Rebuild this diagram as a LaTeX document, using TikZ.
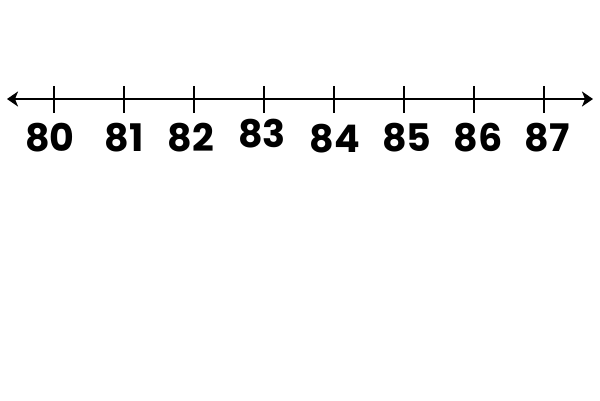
\documentclass[tikz,border=0pt]{standalone}
\usepackage{fontspec}
\setmainfont{Poppins}[BoldFont={* Bold}]
\usetikzlibrary{arrows.meta}
\begin{document}
\begin{tikzpicture}[x=1pt,y=-1pt,
  axis/.style={line width=2.8pt,{Stealth[length=11pt,width=15pt,inset=3pt]}-{Stealth[length=11pt,width=15pt,inset=3pt]}},
  tick/.style={line width=2.8pt},
  lab/.style={font=\fontsize{38}{38}\selectfont\bfseries,anchor=base,inner sep=0pt}]
\useasboundingbox (0,0) rectangle (600,400);
\fill[white] (0,0) rectangle (600,400);
\coordinate (L) at (7,99);
\coordinate (R) at (593,99);
\draw[axis] (L) -- (R);
\foreach \x/\n/\lx/\ly in {54/80/50/151,124/81/124/151,194/82/191/151,264/83/262/147,334/84/335/152,404/85/407/151,474/86/478/151,544/87/547/151}{
  \coordinate (t\n) at (\x,86);
  \coordinate (b\n) at (\x,113);
  \draw[tick] (t\n) -- (b\n);
  \node[lab] (n\n) at (\lx,\ly) {\n};
}
\end{tikzpicture}
\end{document}
